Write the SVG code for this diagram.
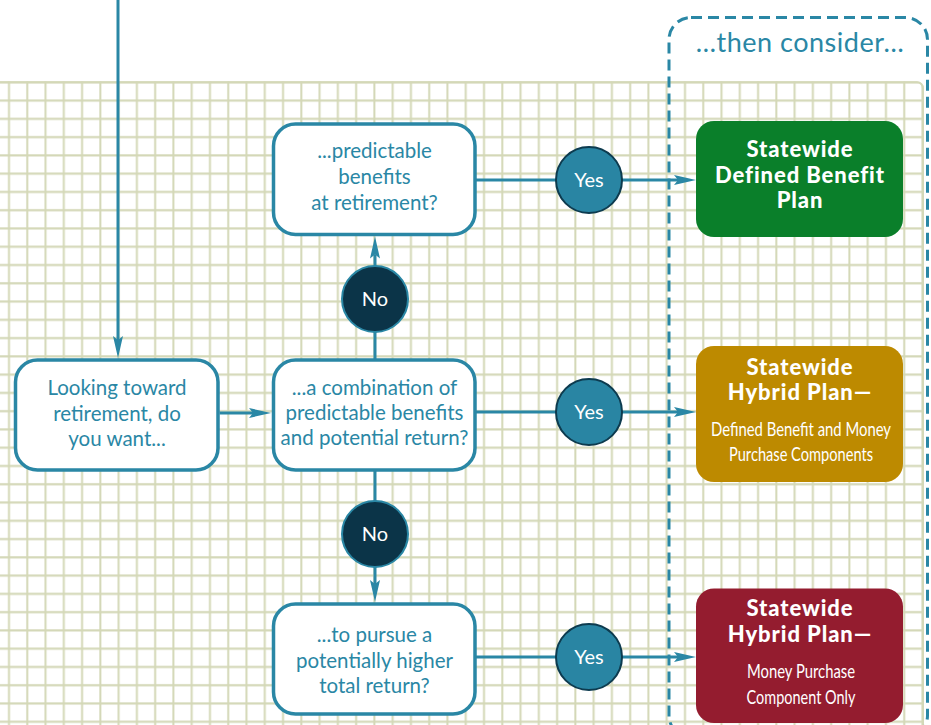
<svg xmlns="http://www.w3.org/2000/svg" width="931" height="725" viewBox="0 0 931 725">
<style>
.q{fill:#fff;stroke:#2a87a5;stroke-width:3.5}
.qt{font-family:Lato,"Open Sans","Liberation Sans",sans-serif;font-size:20.5px;fill:#2a87a5;text-anchor:middle}
.ht{font-family:Lato,"Open Sans","Liberation Sans",sans-serif;font-size:22px;font-weight:900;letter-spacing:0.9px;fill:#fff;text-anchor:middle}
.ct{font-family:Lato,"Liberation Sans",sans-serif;font-size:19.5px;fill:#fff;text-anchor:middle}
.ln{stroke:#2a87a5;stroke-width:3;fill:none}
.yes{fill:#2985a3;stroke:#0d3b4f;stroke-width:2}
.no{fill:#0b3448;stroke:#2a87a5;stroke-width:2}
.lt{font-family:Lato,"Open Sans","Liberation Sans",sans-serif;font-size:20px;fill:#fff;text-anchor:middle}
</style>
<defs>
<pattern id="grid" patternUnits="userSpaceOnUse" x="0" y="73.3" width="18.27" height="18.27">
<path d="M9,0V18.27M0,9H18.27" stroke="#d4d8b7" stroke-width="2"/>
</pattern>
<marker id="ah" viewBox="-4 -6 24 12" markerWidth="24" markerHeight="12" refX="0" refY="0" orient="auto" markerUnits="userSpaceOnUse">
<path d="M18,0L-4,-5L0,0L-4,5z" fill="#2a87a5"/>
</marker>
</defs>
<rect width="931" height="725" fill="#fff"/>
<g id="grid-bg">
<path d="M0,81.3H917a6,6 0 0 1 6,6V725H0z" fill="url(#grid)"/>
<path d="M0,82.3H917a6,6 0 0 1 6,6V725" fill="none" stroke="#d4d8b7" stroke-width="2"/>
</g>
<g id="consider">
<rect x="669" y="17.5" width="258.5" height="720" rx="22" fill="none" stroke="#2a87a5" stroke-width="3" stroke-dasharray="11 6"/>
<text x="800" y="52" font-family="Lato,'Open Sans','Liberation Sans',sans-serif" font-size="27" letter-spacing="0.5" fill="#2a87a5" text-anchor="middle">…then consider…</text>
</g>
<g id="connectors">
<path class="ln" d="M118,0V340" marker-end="url(#ah)"/>
<path class="ln" d="M219.5,413H253" marker-end="url(#ah)"/>
<path class="ln" d="M375,360V254.5" marker-end="url(#ah)"/>
<path class="ln" d="M375,470V584" marker-end="url(#ah)"/>
<path class="ln" d="M476,180H678" marker-end="url(#ah)"/>
<path class="ln" d="M476,412H678" marker-end="url(#ah)"/>
<path class="ln" d="M476,657H678" marker-end="url(#ah)"/>
<g id="label-no-up"><circle class="no" cx="375" cy="299" r="33"/><text class="lt" x="375" y="306">No</text></g>
<g id="label-no-down"><circle class="no" cx="375" cy="534" r="33"/><text class="lt" x="375" y="541">No</text></g>
<g id="label-yes-1"><circle class="yes" cx="589" cy="180" r="33"/><text class="lt" x="589" y="187">Yes</text></g>
<g id="label-yes-2"><circle class="yes" cx="589" cy="412" r="33"/><text class="lt" x="589" y="419">Yes</text></g>
<g id="label-yes-3"><circle class="yes" cx="589" cy="657" r="33"/><text class="lt" x="589" y="664">Yes</text></g>
</g>
<g id="start">
<rect class="q" x="15.5" y="360" width="202.5" height="110" rx="22"/>
<text class="qt" x="117" y="395">Looking toward</text>
<text class="qt" x="117" y="421">retirement, do</text>
<text class="qt" x="117" y="446">you want...</text>
</g>
<g id="q-combination">
<rect class="q" x="273.5" y="360" width="201.5" height="110" rx="22"/>
<text class="qt" x="374.5" y="395">...a combination of</text>
<text class="qt" x="374.5" y="420">predictable benefits</text>
<text class="qt" x="374.5" y="445">and potential return?</text>
</g>
<g id="q-predictable">
<rect class="q" x="273.5" y="124" width="201.5" height="110.5" rx="22"/>
<text class="qt" x="374.5" y="158">...predictable</text>
<text class="qt" x="374.5" y="184">benefits</text>
<text class="qt" x="374.5" y="210">at retirement?</text>
</g>
<g id="q-higher">
<rect class="q" x="273.5" y="604" width="201.5" height="110" rx="22"/>
<text class="qt" x="374.5" y="642">...to pursue a</text>
<text class="qt" x="374.5" y="668">potentially higher</text>
<text class="qt" x="374.5" y="693">total return?</text>
</g>
<g id="plan-db">
<rect x="696" y="121" width="207" height="116" rx="18" fill="#0a7f2a"/>
<text class="ht" x="800" y="157">Statewide</text>
<text class="ht" x="800" y="183">Defined Benefit</text>
<text class="ht" x="800" y="208">Plan</text>
</g>
<g id="plan-hybrid">
<rect x="696" y="346" width="207" height="136" rx="18" fill="#bd8a00"/>
<text class="ht" x="800" y="375">Statewide</text>
<text class="ht" x="800" y="400">Hybrid Plan—</text>
<text class="ct" transform="translate(801,436) scale(0.8,1)" textLength="225" lengthAdjust="spacingAndGlyphs">Defined Benefit and Money</text>
<text class="ct" transform="translate(801,461) scale(0.8,1)" textLength="180" lengthAdjust="spacingAndGlyphs">Purchase Components</text>
</g>
<g id="plan-mp">
<rect x="696" y="588.5" width="207" height="134.5" rx="18" fill="#941c2f"/>
<text class="ht" x="800" y="616">Statewide</text>
<text class="ht" x="800" y="642">Hybrid Plan—</text>
<text class="ct" transform="translate(801,678) scale(0.8,1)" textLength="135" lengthAdjust="spacingAndGlyphs">Money Purchase</text>
<text class="ct" transform="translate(801,704) scale(0.8,1)" textLength="136" lengthAdjust="spacingAndGlyphs">Component Only</text>
</g>
</svg>
